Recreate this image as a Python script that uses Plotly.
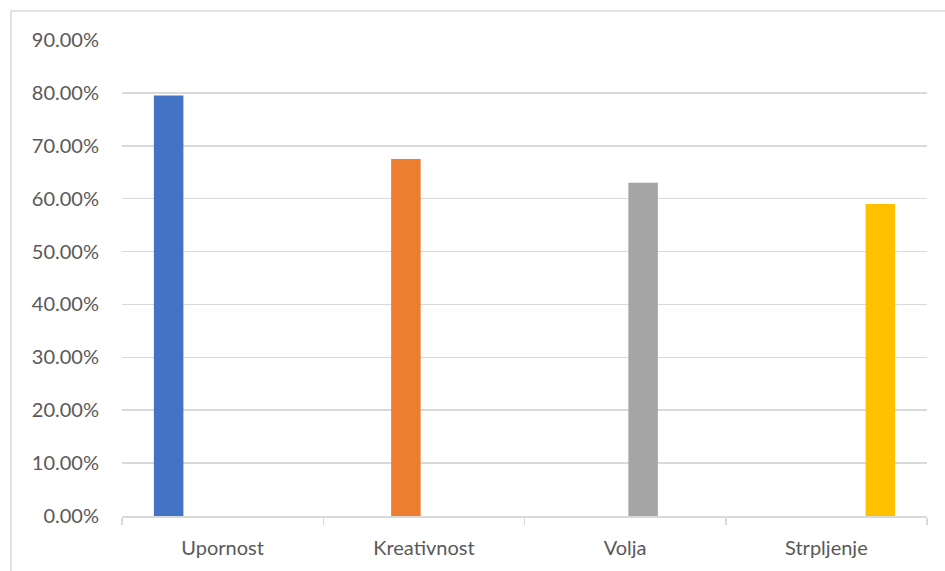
import plotly.graph_objects as go

categories = ["Upornost", "Kreativnost", "Volja", "Strpljenje"]
values = [0.795, 0.675, 0.630, 0.590]
colors = ["#4472C4", "#ED7D31", "#A5A5A5", "#FFC000"]
y_ticks = [0, 0.1, 0.2, 0.3, 0.4, 0.5, 0.6, 0.7, 0.8, 0.9]

W, H = 945, 571
L, R, T, B = 122, 18, 40, 54.5
pw = W - L - R
ph = H - T - B

fig = go.Figure()
for i, (cat, col) in enumerate(zip(categories, colors)):
    ys = [values[j] if j == i else None for j in range(len(categories))]
    fig.add_trace(go.Bar(x=categories, y=ys, name=cat, marker=dict(color=col, line=dict(width=0))))

fig.update_layout(
    width=W, height=H,
    margin=dict(l=L, r=R, t=T, b=B, pad=0),
    paper_bgcolor="white", plot_bgcolor="white",
    barmode="group", bargap=0.2845, bargroupgap=0.18,
    showlegend=False,
    font=dict(family="Lato, Open Sans, sans-serif", size=20, color="#595959"),
    shapes=[dict(type="rect", xref="paper", yref="paper",
                 x0=(11 - L) / pw, x1=1.2, y0=-0.3, y1=(H - B - 11) / ph,
                 line=dict(color="#D9D9D9", width=1.5), fillcolor="rgba(0,0,0,0)", layer="below")],
)
fig.update_xaxes(
    type="category", categoryorder="array", categoryarray=categories,
    showline=True, linecolor="#D9D9D9", linewidth=1.5,
    ticks="outside", tickson="boundaries", ticklen=7, tickcolor="#D9D9D9", tickwidth=1.5,
    showgrid=False, ticklabelstandoff=13,
)
fig.update_yaxes(
    range=[0, 0.9], tickvals=y_ticks, tickformat=".2%",
    showgrid=True, gridcolor="#D9D9D9", gridwidth=1.5,
    zeroline=False, showline=False, ticks="", ticklabelstandoff=22,
)
fig.write_html("out.html", config={"displayModeBar": False, "staticPlot": True})

with open("out.html", "r", encoding="utf-8") as f:
    html = f.read()
html = html.replace("<head>", "<head><style>html,body{margin:0;padding:0;overflow:hidden;}</style>", 1)
with open("out.html", "w", encoding="utf-8") as f:
    f.write(html)
